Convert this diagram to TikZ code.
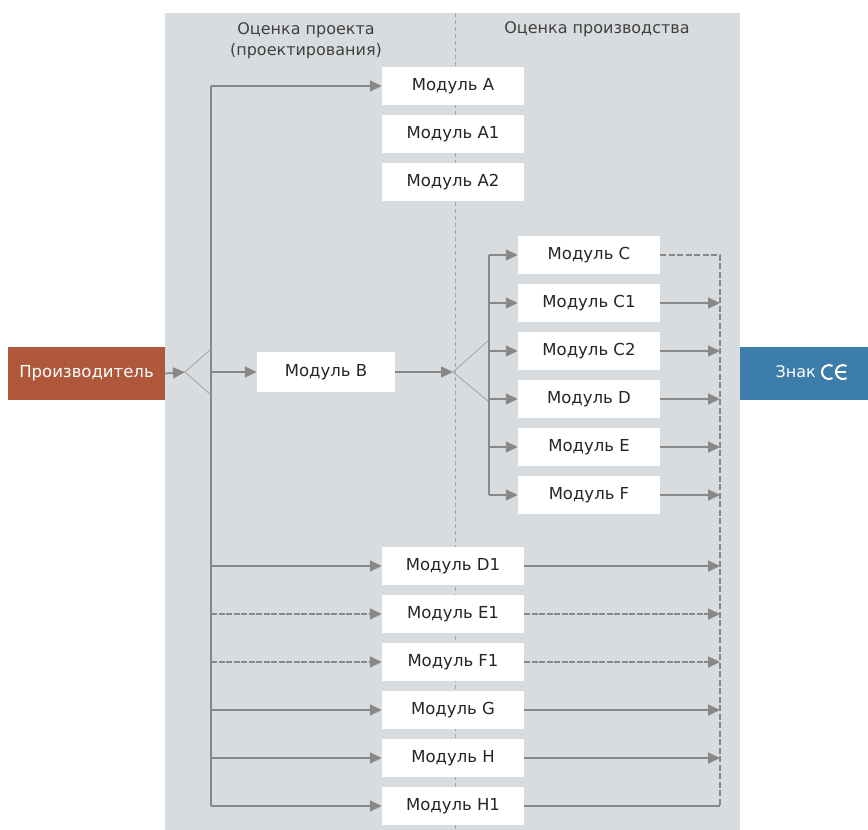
\documentclass[tikz,border=0pt]{standalone}
\usepackage{fontspec}
\setmainfont{DejaVu Sans}
\usetikzlibrary{arrows.meta}
\definecolor{panelc}{HTML}{D9DCDE}
\definecolor{linec}{HTML}{888888}
\definecolor{fanc}{HTML}{A6A6A6}
\definecolor{textc}{HTML}{262626}
\definecolor{headc}{HTML}{404040}
\definecolor{prodc}{HTML}{B0583B}
\definecolor{cec}{HTML}{3D7DAA}
\tikzset{
  modbox/.style={fill=white, minimum width=142pt, minimum height=38pt, inner sep=0pt, text=textc, font=\fontsize{16.5}{20}\selectfont},
  conn/.style={draw=linec, line width=1.6pt},
  arr/.style={conn, -{Triangle[length=12pt,width=11pt]}},
  dconn/.style={conn, dash pattern=on 6pt off 2.5pt},
  fan/.style={draw=fanc, line width=0.9pt},
  headtext/.style={text=headc, font=\fontsize{16}{21}\selectfont, align=center, inner sep=0pt},
  endbox/.style={minimum height=53pt, inner sep=0pt, text=white, font=\fontsize{16.5}{20}\selectfont}
}
\begin{document}
\begin{tikzpicture}[x=1pt,y=-1pt]
\useasboundingbox (0,0) rectangle (868,830);
\fill[panelc] (165,13) rectangle (740,830);
\draw[fanc, line width=0.8pt, dash pattern=on 4pt off 3pt] (455,13) -- (455,830);
% headers
\node[headtext] (h1) at (306,41) {Оценка проекта\\(проектирования)};
\node[headtext] (h2) at (597,29) {Оценка производства};
% end boxes
\node[endbox, fill=prodc, minimum width=157pt] (P) at (86.5,373.5) {Производитель};
\node[endbox, fill=cec, minimum width=128pt] (Z) at (804,373.5) {};
\node[text=white, font=\fontsize{16}{20}\selectfont, inner sep=0pt, anchor=east] (Zt) at (816,372) {Знак};
\draw[white, line width=2pt] (829,372) ++(60:7) arc[start angle=60, end angle=300, radius=7];
\draw[white, line width=2pt] (843,372) ++(60:7) arc[start angle=60, end angle=300, radius=7];
\draw[white, line width=1.8pt] (836.5,372) -- (846,372);
% modules
\node[modbox] (A) at (453,86) {Модуль A};
\node[modbox] (A1) at (453,134) {Модуль A1};
\node[modbox] (A2) at (453,182) {Модуль A2};
\node[modbox, minimum width=138pt, minimum height=40pt] (B) at (326,372) {Модуль B};
\node[modbox] (C) at (589,255) {Модуль C};
\node[modbox] (C1) at (589,303) {Модуль C1};
\node[modbox] (C2) at (589,351) {Модуль C2};
\node[modbox] (D) at (589,399) {Модуль D};
\node[modbox] (E) at (589,447) {Модуль E};
\node[modbox] (F) at (589,495) {Модуль F};
\node[modbox] (D1) at (453,566) {Модуль D1};
\node[modbox] (E1) at (453,614) {Модуль E1};
\node[modbox] (F1) at (453,662) {Модуль F1};
\node[modbox] (G) at (453,710) {Модуль G};
\node[modbox] (H) at (453,758) {Модуль H};
\node[modbox] (H1) at (453,806) {Модуль H1};
% bus coordinates
\coordinate (busL) at (211,86);
\coordinate (busLb) at (211,806);
\coordinate (f1) at (185,372);
\coordinate (f1u) at (211,349);
\coordinate (f1d) at (211,395);
\coordinate (f2) at (453,372);
\coordinate (f2u) at (489,340);
\coordinate (f2d) at (489,402);
\coordinate (busM) at (489,255);
\coordinate (busMb) at (489,495);
\coordinate (busR) at (720,255);
\coordinate (busRb) at (720,806);
% left bus
\draw[conn] (busL) -- (busLb);
\draw[arr] (P.east) -- (f1);
\draw[fan] (f1) -- (f1u);
\draw[fan] (f1) -- (f1d);
\draw[arr] (f1 -| busL) -- (B.west);
\draw[arr] (busL) -- (A.west);
\draw[arr] (D1 -| busL) -- (D1.west);
\draw[arr, dash pattern=on 6pt off 1.5pt] (E1 -| busL) -- (E1.west);
\draw[arr, dash pattern=on 6pt off 1.5pt] (F1 -| busL) -- (F1.west);
\draw[arr] (G -| busL) -- (G.west);
\draw[arr] (H -| busL) -- (H.west);
\draw[arr] (busLb) -- (H1.west);
% middle bus
\draw[arr] (B.east) -- (f2);
\draw[fan] (f2) -- (f2u);
\draw[fan] (f2) -- (f2d);
\draw[conn] (busM) -- (busMb);
\foreach \m in {C,C1,C2,D,E,F} { \draw[arr] (\m -| busM) -- (\m.west); }
% right bus
\draw[dconn] (C.east) -- (busR) -- (busRb);
\foreach \m in {C1,C2,D,E,F,D1,G,H} { \draw[arr] (\m.east) -- (\m -| busR); }
\draw[arr, dash pattern=on 6pt off 1.5pt] (E1.east) -- (E1 -| busR);
\draw[arr, dash pattern=on 6pt off 1.5pt] (F1.east) -- (F1 -| busR);
\draw[conn] (H1.east) -- (busRb);
\end{tikzpicture}
\end{document}
